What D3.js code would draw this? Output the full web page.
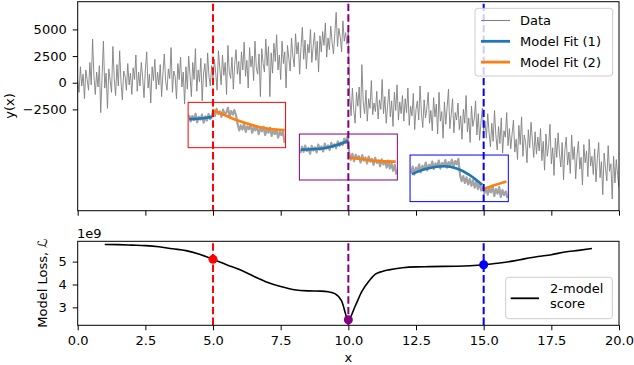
<!DOCTYPE html>
<html>
<head>
<meta charset="utf-8">
<script src="https://cdn.jsdelivr.net/npm/d3@7"></script>
<style>
  body { margin: 0; background: #fff; }
  text { font-family: "DejaVu Sans", sans-serif; font-size: 13px; fill: #000; }
</style>
</head>
<body>
<svg id="chart" width="634" height="365"></svg>
<script>
// signal, sampled every 0.05 in x
const step = 0.05;
const seg1 = [ // x 0.00 .. 10.00
  200, -900, 1500, -300, 800, -1500, 1200, 300, -700, 1900, -200, 4100, 600, -1100, 1000, -400, 1600, -2800, 500, 3900,
  -500, 900, -2400, 1300, 200, -900, 3400, 400, -1200, 1700, -300, 3000, 100, -1600, 1100, 600, -700, 1800, -200, 900,
  -1100, 1400, 300, 2600, -800, 1000, -300, 1900, 500, -1400, 1200, 2900, -500, 800, -1900, 1500, 200, 2200, -600, 1000,
  -200, 1700, -1300, 900, 2700, 100, -700, 1300, 400, 3300, -900, 1100, 600, -1500, 1800, 300, 2400, -400, 1000, -2000,
  1500, -600, 2500, 700, -1300, 1900, 300, 3200, -800, 1200, 100, 2300, -1700, 900, 1800, -400, 2800, 600, -300, 1600,
  300, 2200, 900, -700, 3000, 1400, -200, 2600, 700, 1900, -1100, 3500, 1000, 400, 2400, -600, 1700, 3100, 800, 2000,
  -100, 2900, 1200, 3800, 600, 2100, -500, 3300, 1500, 2500, 200, 3900, 1400, 800, 2700, -1300, 3200, 1800, 1000, 4100,
  1600, 3400, -1300, 2800, 900, 3700, 2000, 4500, 1200, 2600, 300, 3900, 1800, 2900, -500, 3500, 2300, 1100, 4200, 2500,
  1500, 4600, 2700, 3800, 800, 3300, 5200, 2200, 4000, 1300, 3600, 2800, 5000, 1900, 3400, 4700, 2100, 3900, 1000, 4400,
  2900, 4800, 3500, 5600, 2400, 4200, 3100, 5300, 3800, 2700, 4600, 6600, 3400, 5100, 4300, 2900, 5800, 3900, 4700, 3600,
  4900
];
const seg2 = [ // x 10.05 .. 15.00
  -1200, -3100, -500, -2600, -3800, -900, -2200, -400, -3300, 1700, -1800, -2900, -700, -3600, -1500, -2400, 200, -3000, -1900, -2700,
  -800, -3400, -1600, -2500, 300, -2900, -1300, -3800, -2100, -600, -3200, -1700, -4100, -900, -2600, -200, -3500, -1800, -2900, -1200,
  -3600, -1500, -2800, -500, -4000, -2200, -3100, -1000, -4400, -2500, -1700, -3500, -300, -2900, -4200, -1600, -3300, -2400, -900, -3800,
  -2600, -4500, -1400, -3200, -2000, -4800, -900, -3600, -2700, -5200, -1800, -3900, -2300, -600, -4300, -3000, -1500, -4700, -2800, -3500,
  -1900, -4400, -3100, -5300, -2500, -3800, -1200, -4600, -3300, -5600, -2200, -4100, -3400, -1700, -4900, -2900, -5400, -3700, -2400, -4500
];
const seg3 = [ // x 15.05 .. 20.00
  -3600, -5200, -2900, -4700, -6000, -3800, -5500, -2600, -4900, -6300, -4100, -5700, -3300, -6600, -4500, -5100, -2800, -5900, -4300, -6200,
  -4800, -3500, -6500, -5300, -7200, -4000, -5800, -3200, -6900, -4900, -5600, -7500, -4400, -6100, -3700, -5400, -7000, -4600, -6700, -5100,
  -6400, -4300, -7300, -5500, -8200, -4800, -6900, -5900, -3900, -7600, -6100, -8700, -5200, -7000, -4700, -6600, -7900, -5600, -9100, -6300,
  -5100, -7700, -6500, -8500, -4900, -7200, -6000, -9000, -6800, -5500, -8100, -7000, -9600, -5800, -7500, -6400, -8800, -5300, -7800, -6900,
  -8600, -6200, -9300, -7100, -5600, -8900, -7400, -10500, -6600, -8000, -9200, -5900, -8300, -7600, -10900, -6900, -9400, -7200, -8700, -9800
];
const signal = seg1.concat(seg2, seg3);

const changePoints = [5, 10, 15];
const cpColors = ['red', 'purple', 'blue'];

// zoomed views around each candidate (local units 0..100)
const redGray = [72, 58, 70, 61, 75, 56, 68, 62, 73, 55, 69, 60, 74, 63, 70,
  82, 70, 86, 74, 80, 68, 84, 72, 78, 88, 69, 81, 73, 83, 71,
  52, 38, 49, 40, 54, 35, 47, 41, 50, 33, 45, 38, 48, 30, 43, 36, 46, 28, 41, 33, 44, 26, 38, 30, 40, 22, 35, 28, 37, 10];
const redFit1 = [[0, 63], [6, 63.5], [12, 64.5], [18, 66], [24.3, 68]];
const redFit2 = [[24.3, 83], [36, 73], [46, 64], [60, 54], [77, 44], [91, 40], [100, 39]];

const purpleGray = [58, 72, 61, 75, 63, 70, 57, 74, 64, 71, 60, 77, 66, 73, 62, 79, 68, 75, 65, 81, 71, 78, 69, 84, 74, 82, 76, 90, 80, 95,
  60, 44, 57, 41, 55, 46, 52, 38, 54, 42, 49, 36, 51, 40, 46, 33, 48, 37, 43, 30, 45, 34, 40, 27, 42, 25, 36, 20, 33, 12];
const purpleFit1 = [[0.7, 66], [12, 67], [24.5, 69], [38, 76], [49.7, 85.5]];
const purpleFit2 = [[49.7, 49], [65.3, 45], [82.3, 41], [99.3, 40]];

const blueGray = [62, 75, 58, 73, 66, 80, 63, 77, 69, 84, 67, 79, 72, 86, 70, 82, 74, 88, 71, 83, 76, 89, 73, 85, 77, 90, 74, 87, 80, 92,
  58, 44, 55, 40, 52, 37, 49, 34, 46, 30, 43, 27, 40, 24,
  32, 18, 30, 15, 28, 20, 33, 12, 27, 17, 31, 10, 25, 14, 22, 8];
const blueFit1 = [[0.7, 59], [17, 71], [34, 76], [47.5, 71], [61, 57], [73.9, 36]];
const blueFit2 = [[73.9, 26], [88, 36], [99, 43]];

// 2-model score
const lossX = [1, 1.5, 2, 2.5, 3, 3.5, 4, 4.5, 5, 5.5, 6, 6.5, 7, 7.5, 8, 8.5, 9, 9.25, 9.5, 9.75, 10,
  10.25, 10.5, 10.75, 11, 11.25, 11.5, 12, 12.5, 13, 13.5, 14, 14.5, 15, 15.5, 16, 16.5, 17, 17.5, 18, 18.5, 19];
const lossY = [5.75e9, 5.74e9, 5.72e9, 5.70e9, 5.65e9, 5.56e9, 5.48e9, 5.32e9, 5.10e9, 4.86e9, 4.64e9, 4.36e9, 4.10e9, 3.91e9,
  3.77e9, 3.72e9, 3.71e9, 3.68e9, 3.60e9, 3.28e9, 2.46e9, 3.05e9, 3.70e9, 4.13e9, 4.45e9, 4.57e9, 4.64e9, 4.73e9, 4.77e9,
  4.78e9, 4.79e9, 4.80e9, 4.82e9, 4.86e9, 4.93e9, 5.01e9, 5.12e9, 5.22e9, 5.30e9, 5.42e9, 5.49e9, 5.57e9];
const cpLoss = [5.10e9, 2.46e9, 4.86e9];

const xTicks = [0, 2.5, 5, 7.5, 10, 12.5, 15, 17.5, 20];
const yTicksTop = [-2500, 0, 2500, 5000];
const yTicksBot = [3e9, 4e9, 5e9];

const blue = '#1f77b4', orange = '#ff7f0e';

const svg = d3.select('#chart');
const left = 77.7, right = 619;
const top1 = 1.7, bot1 = 210.7, top2 = 241.3, bot2 = 325.3;

const x = d3.scaleLinear().domain([0, 20]).range([left, right]);
const y = d3.scaleLinear().domain([-12000, 7600]).range([bot1, top1]);
const y2 = d3.scaleLinear().domain([2.217e9, 5.887e9]).range([bot2, top2]);

svg.append('defs').append('clipPath').attr('id', 'clip1')
  .append('rect').attr('x', left).attr('y', top1).attr('width', right - left).attr('height', bot1 - top1);

function styleAxis(g) {
  g.select('.domain').remove();
  g.selectAll('line').attr('stroke', '#000').attr('stroke-width', 1);
  g.selectAll('text').style('font-family', '"DejaVu Sans", sans-serif').style('font-size', '13px').attr('fill', '#000');
}

// ---- top panel ----
const signalLine = d3.line()
  .x((d, i) => x(i * step))
  .y(d => y(d));
svg.append('path')
  .datum(signal)
  .attr('clip-path', 'url(#clip1)')
  .attr('fill', 'none')
  .attr('stroke', 'gray')
  .attr('stroke-width', 0.9)
  .attr('d', signalLine);

// insets, placed in data coordinates of the top panel
const insets = [
  { color: 'red', x0: 4.08, x1: 7.68, yHi: -1840, yLo: -6090, gray: redGray, fit1: redFit1, fit2: redFit2 },
  { color: 'purple', x0: 8.19, x1: 11.81, yHi: -4810, yLo: -9120, gray: purpleGray, fit1: purpleFit1, fit2: purpleFit2 },
  { color: 'blue', x0: 12.28, x1: 15.91, yHi: -6780, yLo: -11150, gray: blueGray, fit1: blueFit1, fit2: blueFit2 }
];
insets.forEach(ins => {
  const lx = d3.scaleLinear().domain([-1, 101]).range([x(ins.x0), x(ins.x1)]);
  const ly = d3.scaleLinear().domain([0, 100]).range([y(ins.yLo), y(ins.yHi)]);
  const g = svg.append('g');
  g.append('path')
    .datum(ins.gray)
    .attr('fill', 'none')
    .attr('stroke', '#a3a3a3')
    .attr('stroke-width', 2.2)
    .attr('stroke-linejoin', 'round')
    .attr('d', d3.line().x((d, i) => lx(i * 100 / (ins.gray.length - 1))).y(d => ly(d)));
  [[ins.fit1, blue], [ins.fit2, orange]].forEach(([f, c]) => {
    g.append('path')
      .datum(f)
      .attr('fill', 'none')
      .attr('stroke', c)
      .attr('stroke-width', 2.6)
      .attr('d', d3.line().curve(d3.curveMonotoneX).x(d => lx(d[0])).y(d => ly(d[1])));
  });
  g.append('rect')
    .attr('x', x(ins.x0)).attr('y', y(ins.yHi))
    .attr('width', x(ins.x1) - x(ins.x0)).attr('height', y(ins.yLo) - y(ins.yHi))
    .attr('fill', 'none').attr('stroke', ins.color).attr('stroke-width', 1);
});

// change point markers
changePoints.forEach((cp, i) => {
  [[top1, bot1], [top2, bot2]].forEach(([a, b]) => {
    svg.append('line')
      .attr('x1', x(cp)).attr('x2', x(cp))
      .attr('y1', a + 2).attr('y2', b)
      .attr('stroke', cpColors[i])
      .attr('stroke-width', 2)
      .attr('stroke-dasharray', '7.4,3.2');
  });
});

svg.append('g')
  .attr('transform', 'translate(0,' + bot1 + ')')
  .call(d3.axisBottom(x).tickValues(xTicks).tickSize(5).tickFormat(''))
  .call(styleAxis);
svg.append('g')
  .attr('transform', 'translate(' + left + ',0)')
  .call(d3.axisLeft(y).tickValues(yTicksTop).tickSize(5).tickPadding(6).tickFormat(d3.format('d')))
  .call(styleAxis);
svg.append('rect')
  .attr('x', left).attr('y', top1).attr('width', right - left).attr('height', bot1 - top1)
  .attr('fill', 'none').attr('stroke', '#000').attr('stroke-width', 1);

svg.append('text')
  .attr('transform', 'translate(14,106) rotate(-90)')
  .attr('text-anchor', 'middle')
  .text('y(x)');

// legend (top)
const leg = svg.append('g');
leg.append('rect')
  .attr('x', 475).attr('y', 8.3).attr('width', 137.7).attr('height', 67.7).attr('rx', 3)
  .attr('fill', 'white').attr('fill-opacity', 0.8).attr('stroke', '#ccc');
[['Data', 'gray', 1], ['Model Fit (1)', blue, 2.8], ['Model Fit (2)', orange, 2.8]].forEach(([t, c, w], i) => {
  const cy = 20.5 + i * 20.8;
  leg.append('line').attr('x1', 481).attr('x2', 510).attr('y1', cy).attr('y2', cy)
    .attr('stroke', c).attr('stroke-width', w);
  leg.append('text').attr('x', 520).attr('y', cy).attr('dy', '0.36em').text(t);
});

// ---- bottom panel ----
svg.append('path')
  .datum(lossX.map((d, i) => [d, lossY[i]]))
  .attr('fill', 'none')
  .attr('stroke', '#000')
  .attr('stroke-width', 1.6)
  .attr('d', d3.line().curve(d3.curveMonotoneX).x(d => x(d[0])).y(d => y2(d[1])));

svg.append('g')
  .selectAll('circle')
  .data(changePoints)
  .join('circle')
  .attr('cx', d => x(d))
  .attr('cy', (d, i) => y2(cpLoss[i]))
  .attr('r', 4.5)
  .attr('fill', (d, i) => cpColors[i]);

svg.append('g')
  .attr('transform', 'translate(0,' + bot2 + ')')
  .call(d3.axisBottom(x).tickValues(xTicks).tickSize(5).tickPadding(5).tickFormat(d3.format('.1f')))
  .call(styleAxis);
svg.append('g')
  .attr('transform', 'translate(' + left + ',0)')
  .call(d3.axisLeft(y2).tickValues(yTicksBot).tickSize(5).tickPadding(6).tickFormat(d => d / 1e9))
  .call(styleAxis);
svg.append('rect')
  .attr('x', left).attr('y', top2).attr('width', right - left).attr('height', bot2 - top2)
  .attr('fill', 'none').attr('stroke', '#000').attr('stroke-width', 1);

svg.append('text').attr('x', 77).attr('y', 237.5).text('1e9');
svg.append('text').attr('x', x(10)).attr('y', 362).attr('text-anchor', 'middle').text('x');
svg.append('text')
  .attr('transform', 'translate(47,283) rotate(-90)')
  .attr('text-anchor', 'middle')
  .text('Model Loss, ')
  .append('tspan').style('font-style', 'italic').text('ℒ');

// legend (bottom)
const leg2 = svg.append('g');
leg2.append('rect')
  .attr('x', 505.7).attr('y', 277.3).attr('width', 106.6).attr('height', 41.4).attr('rx', 3)
  .attr('fill', 'white').attr('fill-opacity', 0.8).attr('stroke', '#ccc');
leg2.append('line').attr('x1', 510.7).attr('x2', 539).attr('y1', 298.3).attr('y2', 298.3)
  .attr('stroke', '#000').attr('stroke-width', 1.8);
leg2.append('text').attr('x', 550).attr('y', 288.3).attr('dy', '0.36em').text('2-model');
leg2.append('text').attr('x', 550).attr('y', 303.6).attr('dy', '0.36em').text('score');
</script>
</body>
</html>
